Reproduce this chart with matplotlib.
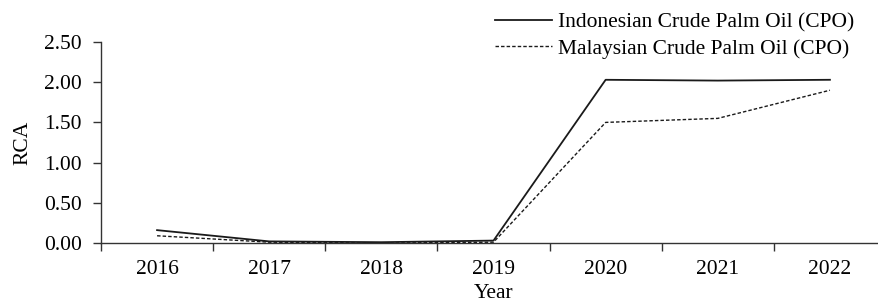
import matplotlib
matplotlib.use("Agg")
import matplotlib.pyplot as plt
import numpy as np

years = [2016, 2017, 2018, 2019, 2020, 2021, 2022]
indonesia_rca = [0.16, 0.02, 0.01, 0.03, 2.03, 2.02, 2.03]
malaysia_rca = [0.09, 0.01, 0.00, 0.01, 1.50, 1.55, 1.90]
y_ticks = [0.0, 0.5, 1.0, 1.5, 2.0, 2.5]

plt.rcParams["font.family"] = ["Liberation Serif", "DejaVu Serif"]
plt.rcParams["font.size"] = 15.5

fig = plt.figure(figsize=(8.79, 3.07), dpi=100)
ax = fig.add_axes([101 / 879, 1 - 243 / 307, 785 / 879, 201 / 307])

ax.plot(years, indonesia_rca, color="#1a1a1a", linewidth=1.3,
        label="Indonesian Crude Palm Oil (CPO)")
ax.plot(years, malaysia_rca, color="#1a1a1a", linewidth=1.0,
        linestyle=(0, (2.5, 1.5)), label="Malaysian Crude Palm Oil (CPO)")

ax.set_xlim(years[0] - 0.5, years[-1] + 0.5)
ax.set_ylim(0, 2.5)

# category axis: tick marks between years, labels centred on years
ax.set_xticks(np.arange(years[0] - 0.5, years[-1] + 0.5, 1.0))
ax.set_xticklabels([])
ax.set_xticks(years, minor=True)
ax.set_xticklabels([str(y) for y in years], minor=True)
ax.tick_params(axis="x", which="major", length=6, width=1, direction="out", color="#333333")
ax.tick_params(axis="x", which="minor", length=0, pad=12)

ax.set_yticks(y_ticks)
ax.set_yticklabels([f"{v:.2f}" for v in y_ticks])
ax.tick_params(axis="y", length=6, width=1, direction="out", color="#333333", pad=8)

for side in ["top", "right"]:
    ax.spines[side].set_visible(False)
for side in ["left", "bottom"]:
    ax.spines[side].set_color("#333333")
    ax.spines[side].set_linewidth(1.0)

ax.set_xlabel("Year", labelpad=4)
ax.set_ylabel("RCA", labelpad=8)

ax.legend(loc="upper left", bbox_to_anchor=(495 / 879, 1 - 12 / 307), bbox_transform=fig.transFigure,
          frameon=False, handlelength=2.65, handletextpad=0.28, labelspacing=0.32,
          borderaxespad=0.0, borderpad=0.0)

fig.savefig("out.png", dpi=100)
